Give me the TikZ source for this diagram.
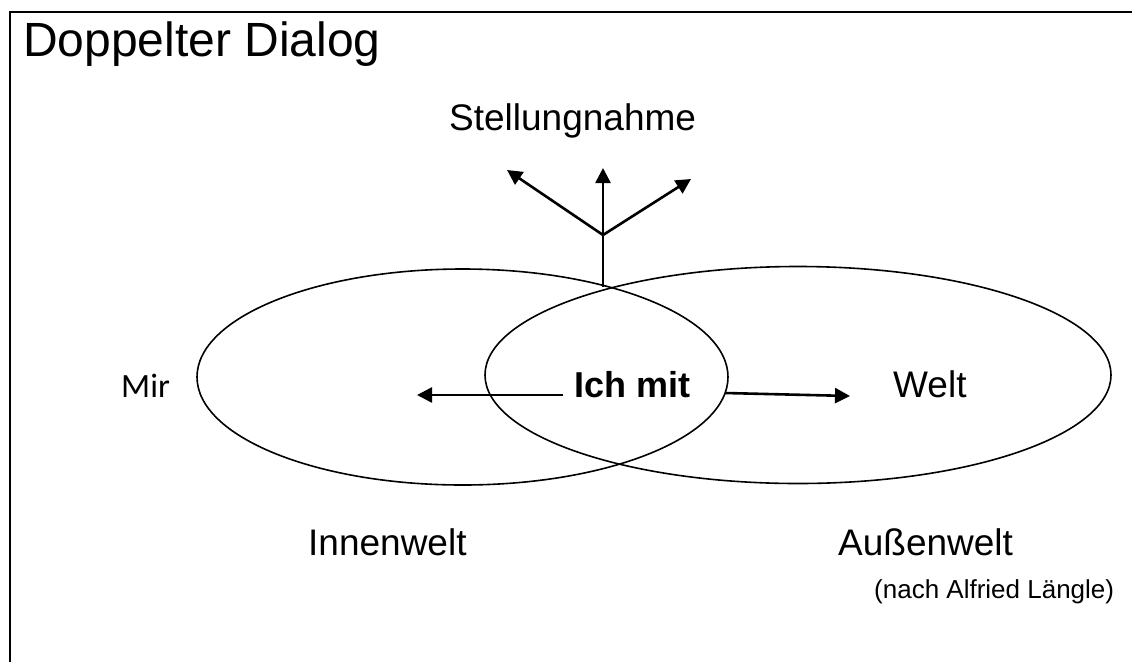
\documentclass[tikz,border=0pt]{standalone}
\usepackage{fontspec}
\setmainfont{Liberation Sans}
\newfontfamily\calibfont{Carlito}
\usetikzlibrary{arrows.meta}
\begin{document}
\begin{tikzpicture}[x=1pt,y=-1pt,
  frame/.style={line width=2.6pt},
  ring/.style={line width=1.6pt},
  pointer/.style={line width=2.6pt,-{Triangle[length=15pt,width=15pt]}},
  label/.style={inner sep=0pt,anchor=base west,font=\fontsize{37}{40}\selectfont}]
\useasboundingbox (0,0) rectangle (1132,662);
% open frame: top and left edges
\draw[frame] (1132,12) -- (10,12) -- (10,662);
% title
\node[label,font=\fontsize{48}{52}\selectfont] (title) at (23,56) {Doppelter Dialog};
% the two overlapping worlds
\draw[ring] (462.5,377) ellipse [x radius=265.5pt, y radius=108pt];
\draw[ring] (798,375) ellipse [x radius=313pt, y radius=108.5pt];
% texts
\node[label,font=\fontsize{37}{40}\selectfont] (stell) at (449,130) {Stellungnahme};
\node[label,font=\calibfont\fontsize{34}{38}\selectfont] (mir) at (121,397) {Mir};
\node[label,font=\fontsize{36}{40}\selectfont\bfseries] (ich) at (574,397) {Ich mit};
\node[label] (welt) at (893,397) {Welt};
\node[label] (innen) at (308,555) {Innenwelt};
\node[label] (aussen) at (838,555) {Außenwelt};
\node[label,font=\fontsize{26}{30}\selectfont] (nach) at (874,598) {(nach Alfried Längle)};
% arrow ends
\coordinate (stem) at (603,287);
\coordinate (fork) at (603,235);
\coordinate (up) at (603,168);
\coordinate (upleft) at (507,170);
\coordinate (upright) at (691,179);
\coordinate (lstart) at (563,395);
\coordinate (lend) at (417,395);
\coordinate (rstart) at (725,393);
\coordinate (rend) at (850,396);
% the stance: one stem, three directions
\draw[line width=2.6pt] (stem) -- (fork);
\draw[pointer] (fork) -- (up);
\draw[pointer] (fork) -- (upleft);
\draw[pointer] (fork) -- (upright);
% inward and outward
\draw[pointer] (lstart) -- (lend);
\draw[pointer] (rstart) -- (rend);
\end{tikzpicture}
\end{document}
